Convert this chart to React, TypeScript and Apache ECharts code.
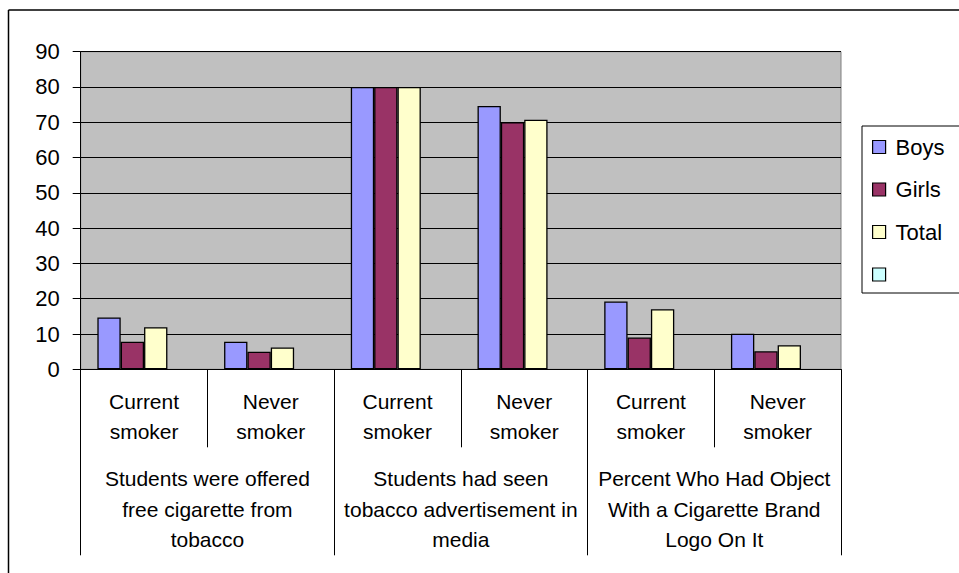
import React, { useEffect, useRef } from "react";
import * as echarts from "echarts";

const subCategories = [
  "Current\nsmoker",
  "Never\nsmoker",
  "Current\nsmoker",
  "Never\nsmoker",
  "Current\nsmoker",
  "Never\nsmoker",
];
const groupCategories = [
  "Students were offered\nfree cigarette from\ntobacco",
  "Students had seen\ntobacco advertisement in\nmedia",
  "Percent Who Had Object\nWith a Cigarette Brand\nLogo On It",
];
const seriesNames = ["Boys", "Girls", "Total", " "];
const boys = [14.7, 7.8, 80, 74.6, 19.2, 10.1];
const girls = [7.8, 5.0, 80, 70.0, 9.0, 5.1];
const total = [11.9, 6.2, 80, 70.7, 17.0, 6.8];
const blank: (number | null)[] = [null, null, null, null, null, null];
const yTicks = { min: 0, max: 90, interval: 10 };

const colors = ["#9999FF", "#993366", "#FFFFCC", "#CCFFFF"];
const FONT = "'Liberation Sans', Arial, sans-serif";

export default function App() {
  const ref = useRef<HTMLDivElement>(null);
  useEffect(() => {
    if (!ref.current) return;
    const chart = echarts.init(ref.current, null, { renderer: "svg" });
    const values = [boys, girls, total, blank];
    chart.setOption({
      animation: false,
      textStyle: { fontFamily: FONT, color: "#000" },
      grid: {
        left: 80.7,
        right: 118,
        top: 51.7,
        bottom: 203.7,
        show: true,
        backgroundColor: "#C0C0C0",
        borderColor: "#808080",
        borderWidth: 1,
      },
      legend: {
        orient: "vertical",
        left: 867,
        top: 131,
        itemWidth: 13,
        itemHeight: 13,
        itemGap: 20.5,
        icon: "rect",
        data: seriesNames,
        textStyle: { fontSize: 22, fontFamily: FONT, color: "#000", lineHeight: 22, padding: [0, 0, 0, 5] },
        selectedMode: false,
        itemStyle: { borderColor: "#000", borderWidth: 1.2 },
      },
      xAxis: [
        {
          type: "category",
          position: "bottom",
          data: subCategories,
          axisLine: { show: true, lineStyle: { color: "#000", width: 1 } },
          axisTick: { show: true, length: 78, alignWithLabel: false, lineStyle: { color: "#000", width: 1 } },
          axisLabel: { interval: 0, fontSize: 21, lineHeight: 30, margin: 17, color: "#000", fontFamily: FONT },
        },
        {
          type: "category",
          position: "bottom",
          data: groupCategories,
          axisLine: { show: false },
          axisTick: { show: true, length: 186, alignWithLabel: false, lineStyle: { color: "#000", width: 1 } },
          axisLabel: { interval: 0, fontSize: 21, lineHeight: 30.5, margin: 94, color: "#000", fontFamily: FONT },
        },
      ],
      yAxis: {
        type: "value",
        min: yTicks.min,
        max: yTicks.max,
        interval: yTicks.interval,
        axisLine: { show: true, lineStyle: { color: "#000", width: 1 } },
        axisTick: { show: true, length: 8, inside: false, lineStyle: { color: "#000" } },
        axisLabel: { fontSize: 22, margin: 21, color: "#000", fontFamily: FONT },
        splitLine: { show: true, lineStyle: { color: "#000", width: 1 } },
      },
      series: seriesNames.map((name, i) => ({
        name,
        type: "bar",
        xAxisIndex: 0,
        data: values[i],
        barGap: "0%",
        barCategoryGap: "26.3%",
        itemStyle: { color: colors[i], borderColor: "#000", borderWidth: 1.3 },
      })),
      graphic: [
        {
          type: "rect",
          shape: { x: 862, y: 126, width: 200, height: 167 },
          style: { fill: "none", stroke: "#000", lineWidth: 1 },
          silent: true,
          z: -1,
        },
        {
          type: "line",
          shape: { x1: 8.5, y1: 10, x2: 1000, y2: 10 },
          style: { stroke: "#000", lineWidth: 1.5 },
          silent: true,
        },
        {
          type: "line",
          shape: { x1: 8.5, y1: 10, x2: 8.5, y2: 1000 },
          style: { stroke: "#000", lineWidth: 1.5 },
          silent: true,
        },
      ],
    });
    return () => chart.dispose();
  }, []);
  return (
    <div
      ref={ref}
      style={{ position: "absolute", left: 0, top: 0, width: 959, height: 573, background: "#fff" }}
    />
  );
}
